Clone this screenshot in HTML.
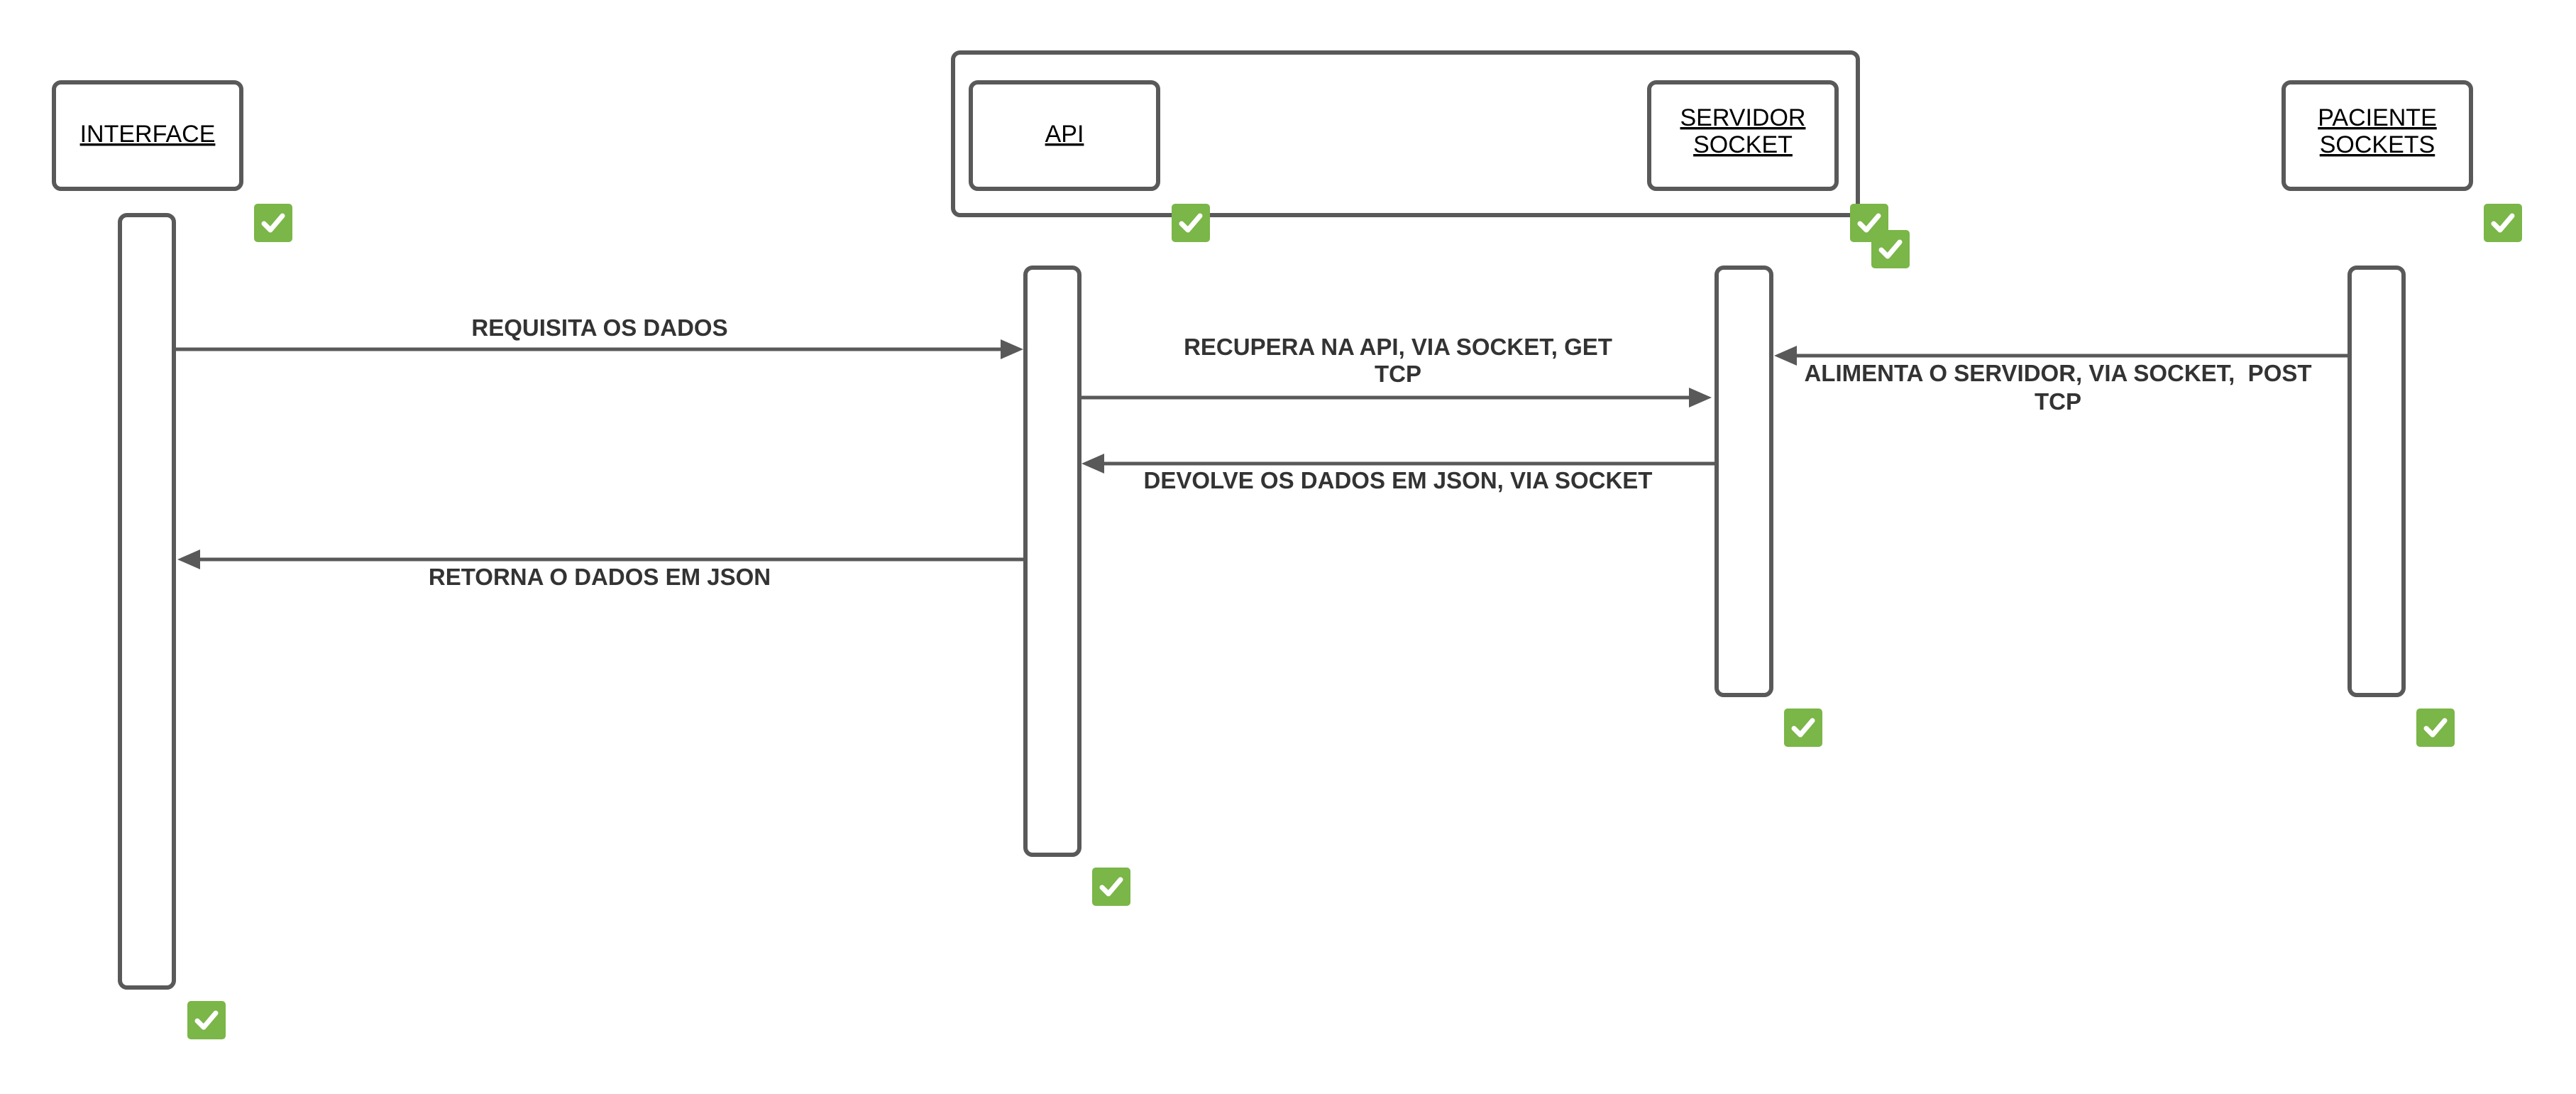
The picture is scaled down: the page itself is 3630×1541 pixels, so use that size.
<!DOCTYPE html>
<html><head><meta charset="utf-8"><style>
html,body{margin:0;padding:0;background:#fff;}
svg{display:block;}
text{font-family:"Liberation Sans",Arial,sans-serif;}
.m{font-weight:bold;font-size:33px;fill:#333;text-anchor:middle;}
.b{font-size:34px;fill:#000;text-anchor:middle;text-decoration:underline;}
</style></head><body>
<svg width="3630" height="1541" viewBox="0 0 3630 1541" xmlns="http://www.w3.org/2000/svg">
<defs>
<g id="ck"><rect x="0" y="0" width="54" height="54" rx="5" fill="#7ab648"/><path d="M14 28 L23 37 L40 17" fill="none" stroke="#fff" stroke-width="7" stroke-linecap="round" stroke-linejoin="round"/></g>
</defs>
<g fill="none" stroke="#595959" stroke-width="6">
<rect x="1343" y="74" width="1275" height="229" rx="10"/>
<rect x="76" y="116" width="264" height="150" rx="10" fill="#fff"/>
<rect x="1368" y="116" width="264" height="150" rx="10" fill="#fff"/>
<rect x="2324" y="116" width="264" height="150" rx="10" fill="#fff"/>
<rect x="3218" y="116" width="264" height="150" rx="10" fill="#fff"/>
<rect x="169" y="303" width="76" height="1088" rx="10" fill="#fff"/>
<rect x="1445" y="377" width="76" height="827" rx="10" fill="#fff"/>
<rect x="2419" y="377" width="77" height="602" rx="10" fill="#fff"/>
<rect x="3311" y="377" width="76" height="602" rx="10" fill="#fff"/>
</g>
<g stroke="#595959" stroke-width="5">
<line x1="248" y1="492" x2="1410" y2="492"/>
<path d="M1410 478 L1442 492 L1410 506 Z" fill="#595959" stroke="none"/>
<line x1="1524" y1="560" x2="2380" y2="560"/>
<path d="M2380 546 L2412 560 L2380 574 Z" fill="#595959" stroke="none"/>
<line x1="2416" y1="653" x2="1556" y2="653"/>
<path d="M1556 639 L1524 653 L1556 667 Z" fill="#595959" stroke="none"/>
<line x1="1442" y1="788" x2="282" y2="788"/>
<path d="M282 774 L250 788 L282 802 Z" fill="#595959" stroke="none"/>
<line x1="3308" y1="501" x2="2532" y2="501"/>
<path d="M2532 487 L2500 501 L2532 515 Z" fill="#595959" stroke="none"/>
</g>
<text class="b" x="208" y="200">INTERFACE</text>
<text class="b" x="1500" y="200">API</text>
<text class="b" x="2456" y="177">SERVIDOR</text>
<text class="b" x="2456" y="215">SOCKET</text>
<text class="b" x="3350" y="177">PACIENTE</text>
<text class="b" x="3350" y="215">SOCKETS</text>
<text class="m" x="845" y="473">REQUISITA OS DADOS</text>
<text class="m" x="1970" y="500">RECUPERA NA API, VIA SOCKET, GET</text>
<text class="m" x="1970" y="538">TCP</text>
<text class="m" x="1970" y="688">DEVOLVE OS DADOS EM JSON, VIA SOCKET</text>
<text class="m" x="845" y="824">RETORNA O DADOS EM JSON</text>
<text class="m" x="2900" y="537" xml:space="preserve">ALIMENTA O SERVIDOR, VIA SOCKET,  POST</text>
<text class="m" x="2900" y="577">TCP</text>
<use href="#ck" x="358" y="287"/>
<use href="#ck" x="1651" y="287"/>
<use href="#ck" x="2607" y="287"/>
<use href="#ck" x="2637" y="324"/>
<use href="#ck" x="3500" y="287"/>
<use href="#ck" x="2514" y="998"/>
<use href="#ck" x="3405" y="998"/>
<use href="#ck" x="1539" y="1222"/>
<use href="#ck" x="264" y="1410"/>
</svg>
</body></html>
